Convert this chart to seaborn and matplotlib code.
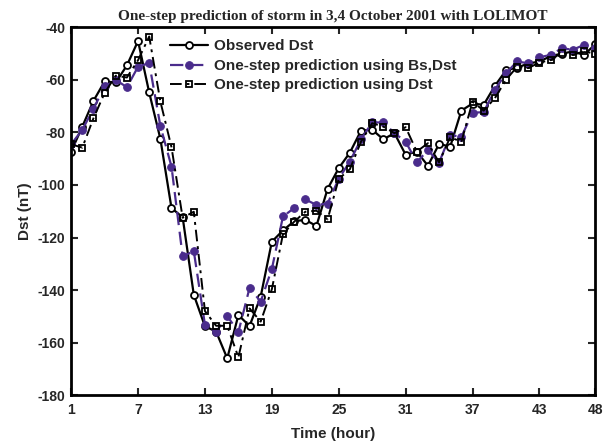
import numpy as np
import pandas as pd
import matplotlib
matplotlib.use("Agg")
import matplotlib.pyplot as plt
import seaborn as sns

hours = list(range(1, 49))

observed_dst = [-87.3, -77.8, -68.0, -60.6, -61.0, -54.5, -45.2, -64.8, -82.4, -108.8,
                -112.3, -141.8, -153.8, -155.8, -166.0, -149.5, -153.7, -142.5, -121.6, -117.3,
                -113.8, -113.3, -115.6, -101.5, -93.6, -87.7, -79.3, -79.0, -82.6, -80.3,
                -88.5, -87.3, -92.7, -84.4, -85.4, -71.7, -69.0, -69.5, -62.3, -56.4,
                -55.3, -53.8, -53.0, -51.0, -50.0, -49.2, -50.5, -46.5]

pred_bs_dst = [-84.5, -79.0, -71.0, -62.5, -60.0, -62.8, -55.0, -53.6, -77.5, -93.0,
               -127.2, -125.2, -153.2, -155.9, -149.9, -156.0, -139.2, -144.4, -132.0, -112.0,
               -108.8, -105.5, -107.6, -107.1, -97.6, -91.1, -82.6, -76.2, -76.2, -80.3,
               -83.5, -91.4, -86.7, -91.5, -81.0, -81.7, -72.5, -72.3, -63.8, -57.5,
               -53.0, -53.7, -51.4, -50.5, -48.0, -48.5, -46.7, -48.0]

pred_dst = [-84.5, -85.8, -74.6, -65.0, -58.4, -59.1, -52.5, -43.5, -68.2, -85.6,
            -112.5, -110.2, -148.0, -153.6, -153.6, -165.6, -147.0, -152.0, -139.7, -118.7,
            -114.0, -110.2, -109.8, -113.1, -97.7, -94.0, -83.5, -76.5, -77.8, -80.3,
            -78.0, -87.3, -84.1, -91.4, -81.8, -83.6, -68.3, -71.7, -67.0, -60.0,
            -55.0, -55.5, -53.4, -52.5, -49.6, -50.5, -49.1, -50.1]

labels = ["Observed Dst", "One-step prediction using Bs,Dst", "One-step prediction using Dst"]
x_ticks = [1, 7, 13, 19, 25, 31, 37, 43, 48]
y_ticks = [-180, -160, -140, -120, -100, -80, -60, -40]

sns.set_style("white")
plt.rcParams['font.family'] = ['Liberation Sans', 'DejaVu Sans']

fig = plt.figure(figsize=(6.03, 4.48), dpi=100)
ax = fig.add_axes([0.118, 0.118, 0.869, 0.821])

purple = "#4a2c8c"

sns.lineplot(x=hours, y=observed_dst, ax=ax, color="black", linestyle="-", linewidth=1.6,
             marker="o", markersize=5, markerfacecolor="white", markeredgecolor="black",
             markeredgewidth=1.3, label=labels[0])
sns.lineplot(x=hours, y=pred_bs_dst, ax=ax, color=purple, linestyle=(0, (6, 3)), linewidth=1.6,
             marker="o", markersize=5.5, markerfacecolor=purple, markeredgecolor=purple,
             label=labels[1])
sns.lineplot(x=hours, y=pred_dst, ax=ax, color="black", linestyle=(0, (6, 2.5, 1.5, 2.5)), linewidth=1.4,
             marker="s", markersize=5, markerfacecolor="none", markeredgecolor="black",
             markeredgewidth=1.3, label=labels[2])

ax.set_xlim(1, 48)
ax.set_ylim(-180, -40)
ax.set_xticks(x_ticks)
ax.set_yticks(y_ticks)
ax.set_xticklabels([str(t) for t in x_ticks], fontsize=10, fontweight="bold")
ax.set_yticklabels([str(t) for t in y_ticks], fontsize=10, fontweight="bold")
ax.tick_params(direction="in", length=5, width=1.5, top=True, right=True,
               bottom=True, left=True, pad=4)
ax.tick_params(axis="x", pad=6)
for s in ax.spines.values():
    s.set_visible(True)
    s.set_linewidth(2)
    s.set_color("black")

ax.set_xlabel("Time (hour)", fontsize=11, fontweight="bold", labelpad=7)
ax.set_ylabel("Dst (nT)", fontsize=11, fontweight="bold", labelpad=4)
ax.set_title("One-step prediction of storm in 3,4 October 2001 with LOLIMOT",
             fontsize=11, fontweight="bold", family=["Liberation Serif", "DejaVu Serif"], pad=5)

leg = ax.legend(loc="upper left", bbox_to_anchor=(0.189, 0.967), frameon=False,
                borderaxespad=0, borderpad=0, handlelength=2.5, handletextpad=0.4,
                labelspacing=0.36, prop={"weight": "bold", "size": 11})

fig.savefig("out.png", dpi=100)
